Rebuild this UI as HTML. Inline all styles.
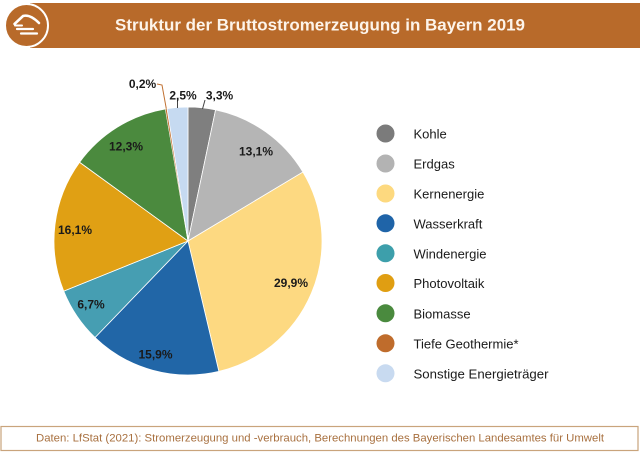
<!DOCTYPE html>
<html><head><meta charset="utf-8">
<style>
html,body{margin:0;padding:0;background:#fff;}
svg{display:block;}
text{font-family:"Liberation Sans",Arial,sans-serif;}
</style></head>
<body>
<svg width="640" height="452" viewBox="0 0 640 452" xmlns="http://www.w3.org/2000/svg">
  <rect x="0" y="0" width="640" height="452" fill="#ffffff"/>
  <!-- header banner -->
  <rect x="30" y="3" width="610" height="45" fill="#b86a2a"/>
  <circle cx="26.5" cy="25.5" r="21.5" fill="#b86a2a" stroke="#ffffff" stroke-width="2"/>
  <g fill="none" stroke="#ffffff" stroke-linecap="round">
    <path d="M14.5 24 L23 16 Q30 14 39 23" stroke-width="2.6"/>
    <path d="M15 25.5 L22 25.5" stroke-width="2"/>
    <path d="M17 29 L33 29" stroke-width="2.2"/>
    <path d="M21 33.5 L37 33.5" stroke-width="2.2"/>
  </g>
  <text x="115" y="30.5" font-size="17" font-weight="bold" fill="#fdf4ea" textLength="410" lengthAdjust="spacingAndGlyphs">Struktur der Bruttostromerzeugung in Bayern 2019</text>

  <!-- pie -->
  <g stroke="#ffffff" stroke-width="0.8" stroke-linejoin="round">
    <path d="M188 241 L188 107 A134 134 0 0 1 215.59 109.87 Z" fill="#7f7f7f"/>
    <path d="M188 241 L215.59 109.87 A134 134 0 0 1 302.91 172.06 Z" fill="#b5b5b5"/>
    <path d="M188 241 L302.91 172.06 A134 134 0 0 1 218.87 371.40 Z" fill="#fdd981"/>
    <path d="M188 241 L218.87 371.40 A134 134 0 0 1 95.05 337.52 Z" fill="#2166a7"/>
    <path d="M188 241 L95.05 337.52 A134 134 0 0 1 63.72 291.11 Z" fill="#469eb2"/>
    <path d="M188 241 L63.72 291.11 A134 134 0 0 1 79.59 162.24 Z" fill="#e0a014"/>
    <path d="M188 241 L79.59 162.24 A134 134 0 0 1 165.38 108.92 Z" fill="#4b8a3e"/>
    <path d="M188 241 L165.38 108.92 A134 134 0 0 1 167.04 108.65 Z" fill="#c06d2a" stroke-width="0.3"/>
    <path d="M188 241 L167.04 108.65 A134 134 0 0 1 188 107 Z" fill="#c6daf1"/>
  </g>
  <!-- leader lines -->
  <line x1="205" y1="100" x2="202.5" y2="109" stroke="#444" stroke-width="1"/>
  <line x1="177.5" y1="99.5" x2="177.5" y2="108" stroke="#444" stroke-width="1"/>
  <polyline points="157,84 162,85 166.3,108.7" fill="none" stroke="#c07030" stroke-width="1"/>

  <!-- labels -->
  <g font-size="12" font-weight="bold" fill="#1a1a1a" text-anchor="middle">
    <text x="219.5" y="99.5">3,3%</text>
    <text x="183" y="99.5">2,5%</text>
    <text x="142.5" y="88">0,2%</text>
    <text x="256" y="155.5">13,1%</text>
    <text x="126" y="150.5">12,3%</text>
    <text x="75" y="234">16,1%</text>
    <text x="291" y="287">29,9%</text>
    <text x="91" y="308.5">6,7%</text>
    <text x="155.5" y="358.5">15,9%</text>
  </g>

  <!-- legend -->
  <g>
    <circle cx="385.5" cy="133.5" r="9" fill="#7b7b7b"/>
    <circle cx="385.5" cy="163.5" r="9" fill="#b3b3b3"/>
    <circle cx="385.5" cy="193.5" r="9" fill="#fdd97f"/>
    <circle cx="385.5" cy="223.3" r="9" fill="#1f64a8"/>
    <circle cx="385.5" cy="253.3" r="9" fill="#3d9fab"/>
    <circle cx="385.5" cy="283" r="9" fill="#e09e12"/>
    <circle cx="385.5" cy="313.3" r="9" fill="#4a8a3e"/>
    <circle cx="385.5" cy="343.3" r="9" fill="#bf6c2c"/>
    <circle cx="385.5" cy="373.3" r="9" fill="#c8daf0"/>
  </g>
  <g font-size="13" fill="#1a1a1a">
    <text x="413.5" y="138.5">Kohle</text>
    <text x="413.5" y="168.5">Erdgas</text>
    <text x="413.5" y="198.5">Kernenergie</text>
    <text x="413.5" y="228.3">Wasserkraft</text>
    <text x="413.5" y="258.3">Windenergie</text>
    <text x="413.5" y="288">Photovoltaik</text>
    <text x="413.5" y="318.3">Biomasse</text>
    <text x="413.5" y="348.3">Tiefe Geothermie*</text>
    <text x="413.5" y="378.3" textLength="135" lengthAdjust="spacingAndGlyphs">Sonstige Energieträger</text>
  </g>

  <!-- footer -->
  <rect x="1" y="426.5" width="637" height="24" fill="#ffffff" stroke="#c9a47c" stroke-width="1.2"/>
  <text x="36" y="441.5" font-size="11" fill="#a8703f" textLength="568" lengthAdjust="spacingAndGlyphs">Daten: LfStat (2021): Stromerzeugung und -verbrauch, Berechnungen des Bayerischen Landesamtes für Umwelt</text>
</svg>
</body></html>
